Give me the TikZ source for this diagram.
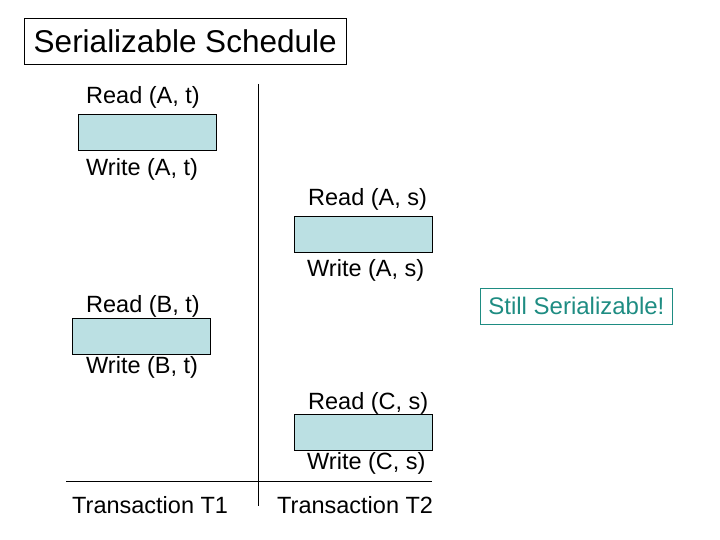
\documentclass[tikz,border=0pt]{standalone}
\usepackage{fontspec}
\setmainfont{Liberation Sans}
\definecolor{boxfill}{RGB}{187,224,227}
\definecolor{teal2}{RGB}{30,140,130}
\begin{document}
\begin{tikzpicture}[x=1pt,y=-1pt,
  lbl/.style={anchor=west,inner sep=0pt,font=\fontsize{23.5}{28}\selectfont},
  op/.style={draw=black,fill=boxfill,line width=0.6pt,minimum width=138pt,minimum height=36pt,inner sep=0pt,anchor=north west}]
\useasboundingbox (0,0) rectangle (720,540);
\node[draw=black,anchor=north west,minimum width=322pt,minimum height=46pt,font=\fontsize{31.5}{36}\selectfont,inner sep=0pt] (title) at (24,18) {Serializable Schedule};
\coordinate (vt) at (258,84); \coordinate (vb) at (258,506);
\draw[line width=0.8pt] (vt) -- (vb);
\coordinate (hl) at (66,481); \coordinate (hr) at (432,481);
\draw[line width=0.8pt] (hl) -- (hr);
\node[lbl] (r1) at (86,97) {Read (A, t)};
\node[op] (b1) at (78,114) {};
\node[lbl] (w1) at (86,169) {Write (A, t)};
\node[lbl] (r2) at (308,199) {Read (A, s)};
\node[op] (b2) at (294,216) {};
\node[lbl] (w2) at (307,270) {Write (A, s)};
\node[lbl] (r3) at (86,306) {Read (B, t)};
\node[op] (b3) at (72,318) {};
\node[lbl] (w3) at (86,367) {Write (B, t)};
\node[lbl] (r4) at (308,403) {Read (C, s)};
\node[op] (b4) at (294,414) {};
\node[lbl] (w4) at (307,463) {Write (C, s)};
\node[lbl] (t1) at (72,505) {Transaction T1};
\node[lbl] (t2) at (277,505) {Transaction T2};
\node[draw=teal2,text=teal2,line width=0.8pt,anchor=north west,minimum width=192pt,minimum height=36pt,inner sep=0pt,font=\fontsize{24}{28}\selectfont] (still) at (480,288) {Still Serializable!};
\end{tikzpicture}
\end{document}
